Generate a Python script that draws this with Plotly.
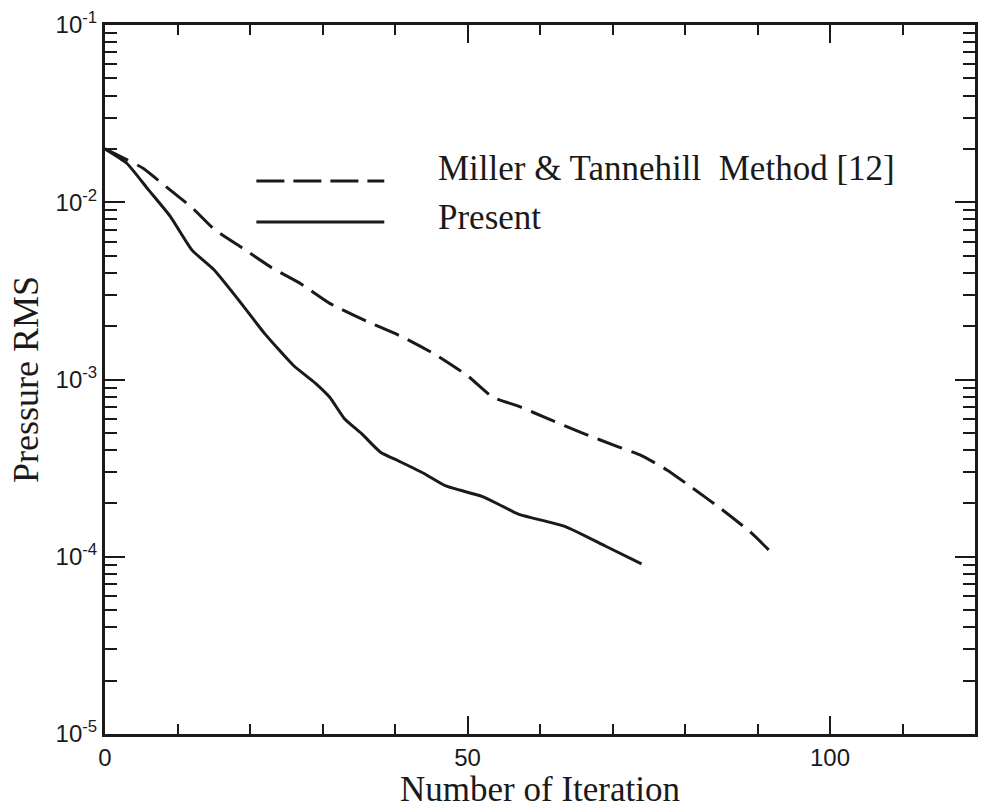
import plotly.graph_objects as go

# ---- data ----
miller_x = [0, 3, 5.3, 8.5, 12, 15, 19, 23, 27, 31, 36, 41, 45.6, 50, 53.5, 57, 61,
            65.7, 70.8, 74, 77.5, 81, 85, 89, 92.5]
miller_y = [0.0200, 0.0174, 0.0155, 0.01216, 0.00933, 0.00708, 0.00550, 0.00427,
            0.00347, 0.00269, 0.00214, 0.00174, 0.00138, 0.00105, 0.000794, 0.000708,
            0.000603, 0.000501, 0.000417, 0.000372, 0.000309, 0.000245, 0.000186,
            0.000138, 0.000100]

present_x = [0, 3, 6, 9, 12, 15, 18.6, 22, 26, 29, 31, 33, 35.5, 38, 40.5, 44, 47,
             52, 55, 57, 63.5, 69, 74]
present_y = [0.0200, 0.0166, 0.01175, 0.00832, 0.00537, 0.00417, 0.00275, 0.00182,
             0.00120, 0.000955, 0.000794, 0.000603, 0.000490, 0.000389, 0.000347,
             0.000295, 0.000251, 0.000219, 0.000191, 0.000174, 0.000148, 0.000115,
             0.0000912]

x_ticks = [0, 50, 100]
x_minor = [10, 20, 30, 40, 60, 70, 80, 90, 110]
y_exps = [-5, -4, -3, -2, -1]
y_ticks = [10.0 ** e for e in y_exps]
y_ticktext = ["10<sup>%d</sup>" % e for e in y_exps]
y_minor = [k * 10.0 ** e for e in y_exps[:-1] for k in range(2, 10)]

legend_labels = ["Miller & Tannehill\u00a0\u00a0Method [12]", "Present"]

INK = "#1a1a1a"
SERIF = "Liberation Serif, Times New Roman, serif"
SANS = "Liberation Sans, Arial, sans-serif"

fig = go.Figure()
fig.add_trace(go.Scatter(x=miller_x, y=miller_y, mode="lines",
                         line=dict(color=INK, width=3, dash="26px,10px",
                                   shape="spline", smoothing=0.5),
                         name=legend_labels[0], showlegend=False))
fig.add_trace(go.Scatter(x=present_x, y=present_y, mode="lines",
                         line=dict(color=INK, width=3, shape="spline", smoothing=0.5),
                         name=legend_labels[1], showlegend=False))

# manual legend (long line samples as in the reference)
leg_y = [0.780, 0.722]
txt_y = [0.797, 0.729]
dashes = ["28px,9px", "solid"]
for i in range(2):
    fig.add_shape(type="line", xref="paper", yref="paper",
                  x0=0.174, x1=0.321, y0=leg_y[i], y1=leg_y[i],
                  line=dict(color=INK, width=3, dash=dashes[i]))
    fig.add_annotation(xref="paper", yref="paper", x=0.381, y=txt_y[i],
                       text=legend_labels[i], showarrow=False, xanchor="left",
                       yanchor="middle", font=dict(family=SERIF, size=35, color=INK))

fig.update_xaxes(range=[0, 120], tickvals=x_ticks, ticks="inside", ticklen=18,
                 tickwidth=2, tickcolor=INK, showline=True, linewidth=3,
                 linecolor=INK, mirror="allticks", showgrid=False, zeroline=False,
                 tickfont=dict(family=SANS, size=24, color=INK),
                 minor=dict(tickvals=x_minor, ticks="inside", ticklen=10,
                            tickwidth=1.5, tickcolor=INK, showgrid=False),
                 title=dict(text="Number of Iteration", standoff=8,
                            font=dict(family=SERIF, size=35, color=INK)))
fig.update_yaxes(type="log", range=[-5, -1], tickvals=y_ticks, ticktext=y_ticktext,
                 ticks="inside", ticklen=20, tickwidth=2, tickcolor=INK,
                 showline=True, linewidth=3, linecolor=INK, mirror="allticks",
                 showgrid=False, zeroline=False,
                 tickfont=dict(family=SANS, size=24, color=INK),
                 minor=dict(tickvals=y_minor, ticks="inside", ticklen=12,
                            tickwidth=1.5, tickcolor=INK, showgrid=False),
                 title=dict(text="Pressure RMS", standoff=6,
                            font=dict(family=SERIF, size=36, color=INK)))

fig.update_layout(width=984, height=809, margin=dict(l=105, r=6, t=25, b=71),
                  plot_bgcolor="white", paper_bgcolor="white", showlegend=False)

fig.write_html("out.html")
